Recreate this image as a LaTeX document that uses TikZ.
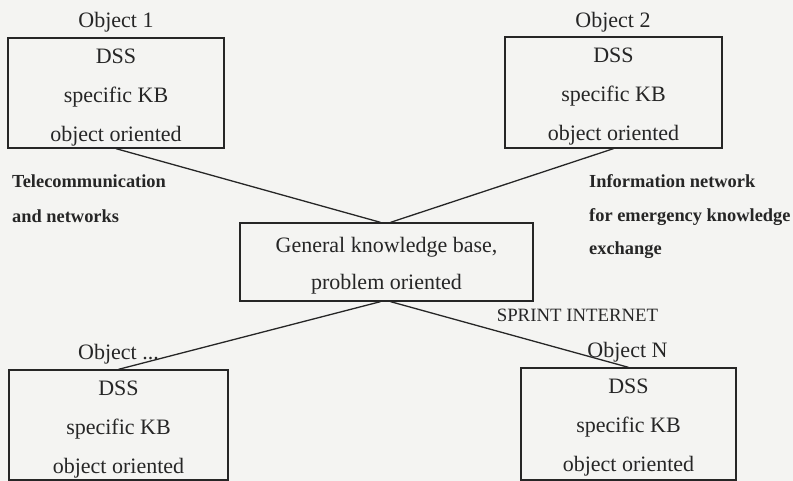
\documentclass[tikz,border=0pt]{standalone}
\usepackage{fontspec}
\setmainfont{Liberation Serif}
\usetikzlibrary{calc}
\definecolor{ink}{HTML}{262626}
\definecolor{paper}{HTML}{F4F4F2}
\tikzset{
  kbox/.style={draw=ink, line width=1.3pt, inner sep=0pt, fill=none},
  btxt/.style={anchor=base, inner sep=0pt, text=ink, font=\fontsize{22}{24}\selectfont},
  ltxt/.style={anchor=base west, inner sep=0pt, text=ink, font=\fontsize{18.4}{20}\selectfont\bfseries},
  link/.style={draw=ink, line width=1.3pt},
}
\begin{document}
\begin{tikzpicture}[x=1pt,y=-1pt]
\fill[paper] (0,0) rectangle (793,481);
\useasboundingbox (0,0) rectangle (793,481);
\clip (0,0) rectangle (793,481);
% boxes
\node[kbox, minimum width=216, minimum height=110] (b1) at (116,93) {};
\node[kbox, minimum width=217, minimum height=111] (b2) at (613.5,92.5) {};
\node[kbox, minimum width=219, minimum height=110] (b3) at (118.5,425) {};
\node[kbox, minimum width=215, minimum height=112] (b4) at (628.5,424) {};
\node[kbox, minimum width=293, minimum height=78] (c) at (386.5,262) {};
% box texts
\foreach \b in {b1,b2,b3,b4}{
  \node[btxt] (\b dss) at ($(\b.north)+(0,26)$) {DSS};
  \node[btxt] (\b kb) at ($(\b.north)+(0,65)$) {specific KB};
  \node[btxt] (\b oo) at ($(\b.north)+(0,104)$) {object oriented};
}
\node[btxt] (t1) at (116,28) {Object 1};
\node[btxt] (t2) at (613,28) {Object 2};
\node[btxt] (t3) at (118.5,359) {Object ...};
\node[btxt] (t4) at (627.5,357) {Object N};
\node[btxt] (c1) at (386.5,253) {General knowledge base,};
\node[btxt] (c2) at (386.5,290) {problem oriented};
% connectors
\draw[link] (b1.south) -- ([xshift=-6pt]c.north);
\draw[link] (b2.south) -- ([xshift=4pt]c.north);
\draw[link] ([xshift=-6pt]c.south) -- (b3.north);
\draw[link] ([xshift=4pt]c.south) -- (b4.north);
% labels
\node[ltxt] (l1) at (12,188) {Telecommunication};
\node[ltxt] (l2) at (12,223) {and networks};
\node[ltxt] (r1) at (589,188) {Information network};
\node[ltxt] (r2) at (589,222) {for emergency knowledge};
\node[ltxt] (r3) at (589,255) {exchange};
\node[anchor=base, inner sep=0pt, text=ink, font=\fontsize{18.8}{20}\selectfont] (sp) at (577.5,321) {SPRINT INTERNET};
\end{tikzpicture}
\end{document}
